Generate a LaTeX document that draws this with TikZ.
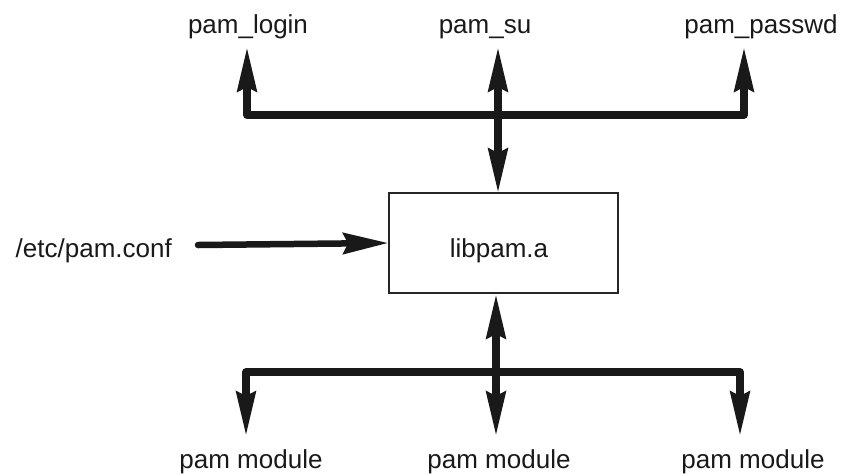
\documentclass[tikz,border=0pt]{standalone}
\usepackage{fontspec}
\setmainfont{Liberation Sans}
\usetikzlibrary{arrows.meta}
\begin{document}
\begin{tikzpicture}[x=1pt,y=-1pt,
  lbl/.style={anchor=base,inner sep=0pt,font=\fontsize{26}{30}\selectfont,text=black!90},
  fat/.style={line width=7.5pt,draw=black!90,line join=round},
  hd/.tip={Stealth[length=44pt,width=19pt,inset=4pt]},
  tipA/.style={-hd},
  tipB/.style={hd-hd},
  boxst/.style={draw=black!85,line width=1.6pt,fill=white,minimum width=229pt,minimum height=100pt,inner sep=0pt}]
\useasboundingbox (0,0) rectangle (843,475);
% labels
\node[lbl] (login) at (248,33) {pam\_login};
\node[lbl] (su) at (485,33) {pam\_su};
\node[lbl] (passwd) at (761,33) {pam\_passwd};
\node[lbl,anchor=base east] (conf) at (172,257) {/etc/pam.conf};
\node[boxst] (lib) at (503.5,243) {};
\node[lbl] (libtxt) at (499,257) {libpam.a};
\node[lbl] (m1) at (251,468) {pam module};
\node[lbl] (m2) at (499,468) {pam module};
\node[lbl] (m3) at (753,468) {pam module};
% coordinates
\coordinate (t1) at (247,47);
\coordinate (t2) at (498,47);
\coordinate (t3) at (744,47);
\coordinate (b1) at (247,115);
\coordinate (b3) at (744,115);
\coordinate (btop) at (498,193);
\coordinate (bbot) at (496,294);
\coordinate (c1) at (246,372);
\coordinate (c3) at (740,372);
\coordinate (d1) at (246,436);
\coordinate (d2) at (496,436);
\coordinate (d3) at (740,436);
\coordinate (cs) at (198,245);
% top
\draw[fat,tipB] (t1) -- (b1) -- (b3) -- (t3);
\draw[fat,tipB] (t2) -- (btop);
% conf
\draw[fat,line width=6.5pt,line cap=round,-{Stealth[length=45pt,width=21pt,inset=5pt]}] (cs) -- (lib.west);
% bottom
\draw[fat,tipB] (bbot) -- (d2);
\draw[fat,tipB] (d1) -- (c1) -- (c3) -- (d3);
\end{tikzpicture}
\end{document}
